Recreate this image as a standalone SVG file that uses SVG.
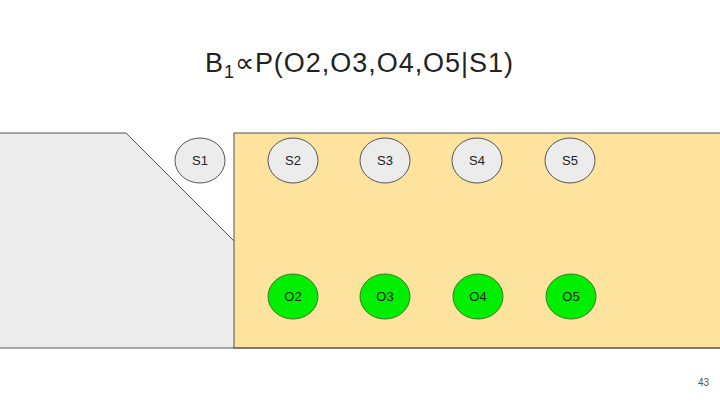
<svg xmlns="http://www.w3.org/2000/svg" width="720" height="405" viewBox="0 0 720 405">
<style>
text{font-family:"Liberation Sans",Arial,sans-serif;fill:#222}
.s ellipse{fill:#ececec;stroke:#555;stroke-width:1}
.o ellipse{fill:#00ee00;stroke:#3a7a2a;stroke-width:1}
.lbl{font-size:13px;text-anchor:middle}
</style>
<rect width="720" height="405" fill="#fff"/>
<g id="region-gray">
<polygon points="0,133 126,133 234,241 234,348 0,348" fill="#ececec"/>
<polyline points="0,133 126,133 234,241" fill="none" stroke="#555" stroke-width="1"/>
</g>
<g id="region-yellow">
<rect x="234" y="133" width="487" height="215" fill="#fde39e" stroke="#555" stroke-width="1"/>
</g>
<line x1="0" y1="348" x2="720" y2="348" stroke="#555" stroke-width="1"/>
<text x="205" y="72" font-size="27" textLength="308" lengthAdjust="spacing">B<tspan font-size="18" dy="6">1</tspan><tspan dy="-6">∝P(O2,O3,O4,O5|S1)</tspan></text>
<g id="S1" class="s"><ellipse cx="200" cy="160.5" rx="25" ry="22.5"/><text class="lbl" x="200" y="165">S1</text></g>
<g id="S2" class="s"><ellipse cx="293" cy="160.5" rx="25" ry="22.5"/><text class="lbl" x="293" y="165">S2</text></g>
<g id="S3" class="s"><ellipse cx="385" cy="160.5" rx="25" ry="22.5"/><text class="lbl" x="385" y="165">S3</text></g>
<g id="S4" class="s"><ellipse cx="477" cy="160.5" rx="25" ry="22.5"/><text class="lbl" x="477" y="165">S4</text></g>
<g id="S5" class="s"><ellipse cx="570" cy="160.5" rx="25" ry="22.5"/><text class="lbl" x="570" y="165">S5</text></g>
<g id="O2" class="o"><ellipse cx="293" cy="296.5" rx="25" ry="22.5"/><text class="lbl" x="293" y="301">O2</text></g>
<g id="O3" class="o"><ellipse cx="385" cy="296.5" rx="25" ry="22.5"/><text class="lbl" x="385" y="301">O3</text></g>
<g id="O4" class="o"><ellipse cx="478" cy="296.5" rx="25" ry="22.5"/><text class="lbl" x="478" y="301">O4</text></g>
<g id="O5" class="o"><ellipse cx="571" cy="296.5" rx="25" ry="22.5"/><text class="lbl" x="571" y="301">O5</text></g>
<g id="connectors"></g>
<text x="698" y="386" font-size="10" style="fill:#555">43</text>
</svg>
